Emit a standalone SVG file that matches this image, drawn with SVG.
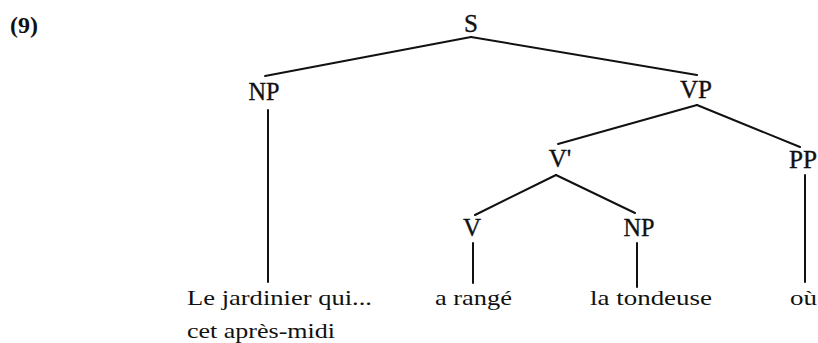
<svg xmlns="http://www.w3.org/2000/svg" width="818" height="343" viewBox="0 0 818 343">
<style>
.bg{fill:#fff}
text{font-family:'Liberation Serif','DejaVu Serif','Noto Serif',serif;fill:#111}
.lbl{font-size:25px;text-anchor:middle;stroke:#111;stroke-width:0.35}
.leaf{font-size:21px}
.num{font-size:24px;font-weight:bold}
.edge{stroke:#111;stroke-width:2;fill:none;stroke-linecap:round}
</style>
<rect class="bg" x="0" y="0" width="818" height="343"/>
<text class="num" x="10" y="33" font-family="Liberation Serif, DejaVu Serif, serif">(9)</text>
<g id="connectors">
<line class="edge" x1="471" y1="37" x2="265" y2="76"/>
<line class="edge" x1="471" y1="37" x2="697" y2="75"/>
<line class="edge" x1="268" y1="110" x2="268" y2="282"/>
<line class="edge" x1="697" y1="105" x2="558" y2="144"/>
<line class="edge" x1="697" y1="105" x2="800" y2="147"/>
<line class="edge" x1="805" y1="175" x2="805" y2="282"/>
<line class="edge" x1="556" y1="175" x2="475" y2="215"/>
<line class="edge" x1="556" y1="175" x2="635" y2="213"/>
<line class="edge" x1="473" y1="243" x2="473" y2="283"/>
<line class="edge" x1="637" y1="243" x2="637" y2="287"/>
</g>
<g id="node-S"><text class="lbl" x="471" y="32" font-family="Liberation Serif, DejaVu Serif, serif">S</text></g>
<g id="node-NP1"><text class="lbl" x="264" y="100" textLength="31" lengthAdjust="spacingAndGlyphs" font-family="Liberation Serif, DejaVu Serif, serif">NP</text></g>
<g id="node-VP"><text class="lbl" x="696" y="98" textLength="32" lengthAdjust="spacingAndGlyphs" font-family="Liberation Serif, DejaVu Serif, serif">VP</text></g>
<g id="node-Vbar"><text class="lbl" x="560" y="167" font-family="Liberation Serif, DejaVu Serif, serif">V'</text></g>
<g id="node-PP"><text class="lbl" x="803" y="168" textLength="28" lengthAdjust="spacingAndGlyphs" font-family="Liberation Serif, DejaVu Serif, serif">PP</text></g>
<g id="node-V"><text class="lbl" x="472" y="236" font-family="Liberation Serif, DejaVu Serif, serif">V</text></g>
<g id="node-NP2"><text class="lbl" x="639" y="236" textLength="31" lengthAdjust="spacingAndGlyphs" font-family="Liberation Serif, DejaVu Serif, serif">NP</text></g>
<g id="leaf-jardinier">
<text class="leaf" x="187" y="305" textLength="185" lengthAdjust="spacingAndGlyphs" font-family="Liberation Serif, DejaVu Serif, serif">Le jardinier qui...</text>
<text class="leaf" x="187" y="338" textLength="148" lengthAdjust="spacingAndGlyphs" font-family="Liberation Serif, DejaVu Serif, serif">cet après-midi</text>
</g>
<g id="leaf-range"><text class="leaf" x="435" y="305" textLength="77" lengthAdjust="spacingAndGlyphs" font-family="Liberation Serif, DejaVu Serif, serif">a rangé</text></g>
<g id="leaf-tondeuse"><text class="leaf" x="590" y="305" textLength="122" lengthAdjust="spacingAndGlyphs" font-family="Liberation Serif, DejaVu Serif, serif">la tondeuse</text></g>
<g id="leaf-ou"><text class="leaf" x="790" y="305" textLength="27" lengthAdjust="spacingAndGlyphs" font-family="Liberation Serif, DejaVu Serif, serif">où</text></g>
</svg>
